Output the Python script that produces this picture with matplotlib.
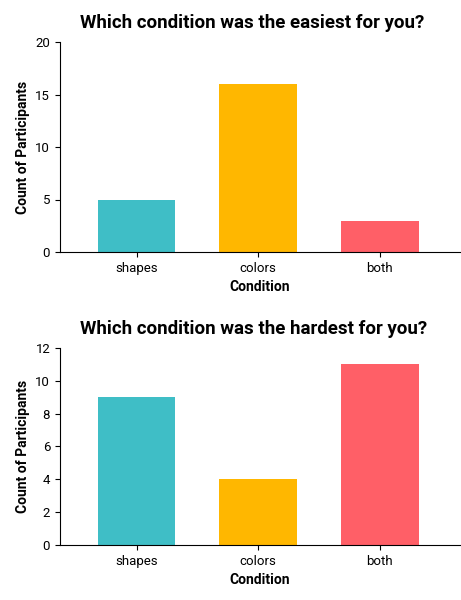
import matplotlib.pyplot as plt

plt.rcParams['font.family'] = ['Roboto', 'DejaVu Sans']

conditions = ['shapes', 'colors', 'both']
easiest = [5, 16, 3]
hardest = [9, 4, 11]
colors = ['#3fbec6', '#ffb700', '#ff5f67']

fig = plt.figure(figsize=(4.61, 6.0), dpi=100)
ax1 = fig.add_axes([0.130, 0.580, 0.868, 0.350])
ax2 = fig.add_axes([0.130, 0.092, 0.868, 0.328])

panels = [
    (ax1, easiest, 'Which condition was the easiest for you?', 20, [0, 5, 10, 15, 20]),
    (ax2, hardest, 'Which condition was the hardest for you?', 12, [0, 2, 4, 6, 8, 10, 12]),
]

for ax, vals, title, ymax, yt in panels:
    ax.bar(range(len(conditions)), vals, width=0.64, color=colors)
    ax.set_xlim(-0.63, 2.66)
    ax.set_ylim(0, ymax)
    ax.set_yticks(yt)
    ax.set_xticks(range(len(conditions)))
    ax.set_xticklabels(conditions)
    ax.spines['top'].set_visible(False)
    ax.spines['right'].set_visible(False)
    ax.tick_params(labelsize=9.5)
    ax.set_xlabel('Condition', fontsize=10, fontweight='bold')
    ax.set_ylabel('Count of Participants', fontsize=10, fontweight='bold')
    ax.set_title(title, fontsize=13.5, fontweight='bold', loc='left', x=0.05, pad=10)

fig.savefig('out.png', dpi=100)
